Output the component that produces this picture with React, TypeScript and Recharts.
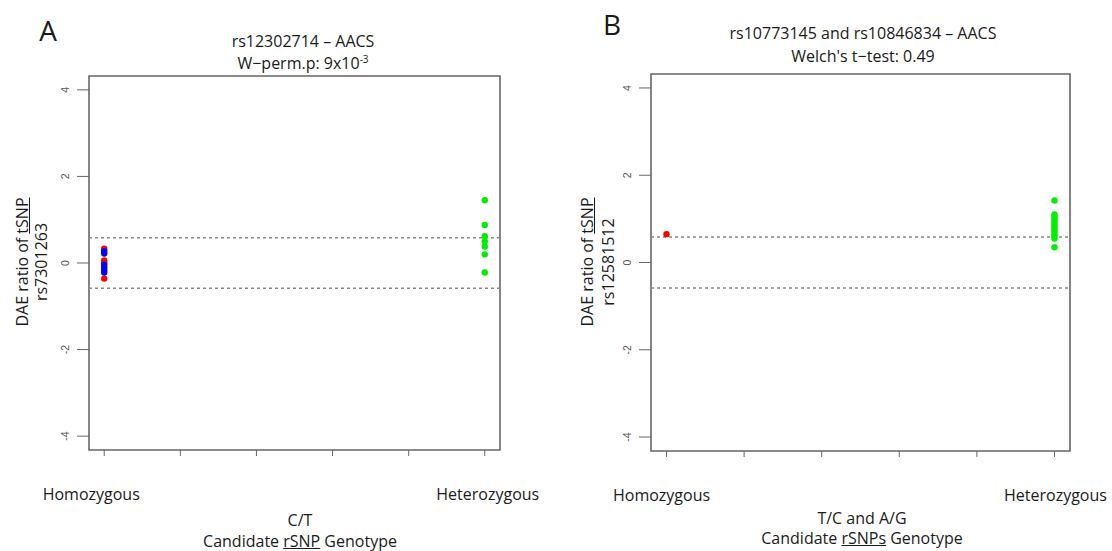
import React from "react";
import { ScatterChart, Scatter, XAxis, YAxis, ReferenceLine, ReferenceArea } from "recharts";

// panel A: rs12302714 – AACS
const aHomoRed = [0.33, 0.06, 0.0, -0.36];
const aHomoBlue = [0.27, 0.22, -0.04, -0.1, -0.16, -0.22];
const aHetero = [1.45, 0.88, 0.62, 0.5, 0.38, 0.2, -0.22];

// panel B: rs10773145 and rs10846834 – AACS
const bHomoRed = [0.65];
const bHetero = [1.42, 1.1, 1.05, 1.0, 0.95, 0.9, 0.85, 0.8, 0.75, 0.7, 0.65, 0.6, 0.55, 0.35];

const xTicks = [1, 1.2, 1.4, 1.6, 1.8, 2];
const yTicks = [-4, -2, 0, 2, 4];
const genotypeLabels: Record<number, string> = { 1: "Homozygous", 2: "Heterozygous" };
const threshold = 0.585;

const toPoints = (x: number, ys: number[]) => ys.map((y) => ({ x, y }));

const FONT = "'Open Sans', 'Noto Sans', sans-serif";
const AXIS = "#666";
const FS = 16;

const dot = (color: string) => (p: any) => <circle cx={p.cx} cy={p.cy} r={3.2} fill={color} />;

const YTick = (p: any) => (
  <text
    x={p.x - 6}
    y={p.y}
    transform={`rotate(-90 ${p.x - 6} ${p.y})`}
    textAnchor="middle"
    fontSize={10.5}
    fill="#555"
    fontFamily="'Liberation Sans', Arial, sans-serif"
  >
    {p.payload.value}
  </text>
);

const makeXTick = (offsets: Record<number, number>) => (p: any) => {
  const label = genotypeLabels[p.payload.value];
  if (!label) return <g />;
  return (
    <text x={p.x + (offsets[p.payload.value] || 0)} y={p.y + 42} textAnchor="middle" fontSize={FS} fill="#1a1a1a" fontFamily={FONT}>
      {label}
    </text>
  );
};

interface PanelProps {
  left: number;
  width: number;
  margin: { top: number; right: number; bottom: number; left: number };
  red: { x: number; y: number }[];
  blue?: { x: number; y: number }[];
  green: { x: number; y: number }[];
  offsets: Record<number, number>;
}

function Panel({ left, width, margin, red, blue, green, offsets }: PanelProps) {
  return (
    <div style={{ position: "absolute", left, top: 0 }}>
      <ScatterChart width={width} height={551} margin={margin}>
        <XAxis
          type="number"
          dataKey="x"
          domain={[0.96, 2.04]}
          ticks={xTicks}
          interval={0}
          allowDataOverflow
          axisLine={false}
          tickSize={6}
          tickLine={{ stroke: AXIS }}
          tick={makeXTick(offsets)}
          height={30}
        />
        <YAxis
          type="number"
          dataKey="y"
          domain={[-4.32, 4.32]}
          ticks={yTicks}
          interval={0}
          allowDataOverflow
          axisLine={false}
          tickSize={12}
          tickLine={{ stroke: AXIS }}
          tick={<YTick />}
          width={30}
        />
        <ReferenceArea x1={0.96} x2={2.04} y1={-4.32} y2={4.32} fill="none" stroke={AXIS} strokeWidth={1.6} fillOpacity={0} />
        <ReferenceLine y={threshold} stroke="#888" strokeDasharray="3 3" strokeWidth={1.5} />
        <ReferenceLine y={-threshold} stroke="#888" strokeDasharray="3 3" strokeWidth={1.5} />
        <Scatter data={red} shape={dot("#ff0000")} isAnimationActive={false} />
        {blue && <Scatter data={blue} shape={dot("#0000ff")} isAnimationActive={false} />}
        <Scatter data={green} shape={dot("#00ee00")} isAnimationActive={false} />
      </ScatterChart>
    </div>
  );
}

const txt = (left: number, top: number, size: number, content: React.ReactNode, extra: React.CSSProperties = {}) => (
  <div
    style={{
      position: "absolute",
      left,
      top,
      transform: "translate(-50%, -50%)",
      fontSize: size,
      fontFamily: FONT,
      color: "#1a1a1a",
      whiteSpace: "nowrap",
      lineHeight: 1,
      ...extra,
    }}
  >
    {content}
  </div>
);

const rot = (left: number, top: number, content: React.ReactNode) =>
  txt(left, top, FS, content, { transform: "translate(-50%, -50%) rotate(-90deg)" });

export default function App() {
  return (
    <div style={{ position: "absolute", left: 0, top: 0, width: 1112, height: 551, background: "#fff", overflow: "hidden" }}>
      <Panel
        left={0}
        width={540}
        margin={{ top: 76, right: 40, bottom: 71, left: 59 }}
        red={toPoints(1, aHomoRed)}
        blue={toPoints(1, aHomoBlue)}
        green={toPoints(2, aHetero)}
        offsets={{ 1: -13, 2: 3 }}
      />
      <Panel
        left={560}
        width={552}
        margin={{ top: 74, right: 42, bottom: 70, left: 61 }}
        red={toPoints(1, bHomoRed)}
        green={toPoints(2, bHetero)}
        offsets={{ 1: -5, 2: 1 }}
      />

      {txt(48, 30, 28, "A")}
      {txt(303, 41, FS, "rs12302714 – AACS")}
      {txt(303, 63, FS, <span>W−perm.p: 9x10<sup style={{ fontSize: 10 }}>-3</sup></span>)}
      {rot(22, 262, <span>DAE ratio of <u>tSNP</u></span>)}
      {rot(41, 262, "rs7301263")}
      {txt(300, 520, FS, "C/T")}
      {txt(300, 541, FS, <span>Candidate <u>rSNP</u> Genotype</span>)}

      {txt(612, 24, 28, "B")}
      {txt(863, 33, FS, "rs10773145 and rs10846834 – AACS")}
      {txt(863, 56, FS, "Welch's t−test: 0.49")}
      {rot(587, 262, <span>DAE ratio of <u>tSNP</u></span>)}
      {rot(608, 262, "rs12581512")}
      {txt(862, 518, FS, "T/C and A/G")}
      {txt(862, 538, FS, <span>Candidate <u>rSNPs</u> Genotype</span>)}
    </div>
  );
}
